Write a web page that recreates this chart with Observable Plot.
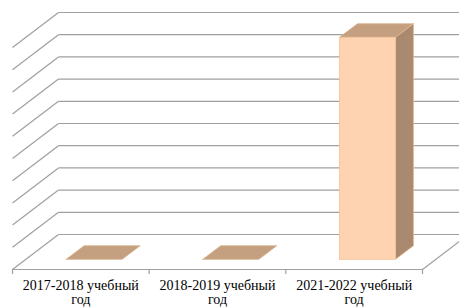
<!DOCTYPE html>
<html><head><meta charset="utf-8">
<script src="https://cdn.jsdelivr.net/npm/d3@7"></script>
<script src="https://cdn.jsdelivr.net/npm/@observablehq/plot@0.6"></script>
<style>body{margin:0;background:#fff}</style>
</head><body><div id="chart"></div>
<script>
// ---- data ----
const categories = ["2017-2018 учебный\nгод", "2018-2019 учебный\nгод", "2021-2022 учебный\nгод"];
const values = [0, 0, 100];
const gridValues = [0, 10, 20, 30, 40, 50, 60, 70, 80, 90, 100];

// ---- layout / projection (oblique 3D like Excel) ----
const W = 459, H = 307;
const xRange = [12, 422], yRange = [234, 12];
const xDomain = [0, categories.length], yDomain = [0, 100];
const pxPerX = (xRange[1] - xRange[0]) / (xDomain[1] - xDomain[0]);
const pxPerY = (yRange[0] - yRange[1]) / (yDomain[1] - yDomain[0]);
const DX = 46 / pxPerX;   // depth shift in x units (front -> back)
const DY = 35 / pxPerY;   // depth shift in y units
const proj = (c, v, z) => ({x: c + z * DX, y: v - (1 - z) * DY});

const barLo = 0.295, barHi = 0.705, z0 = 0.29, z1 = 0.68;

// faces
const frontFaces = [], sideFaces = [], topFaces = [];
values.forEach((v, i) => {
  const a = i + barLo, b = i + barHi;
  const poly = (arr, pts, id) => pts.forEach(p => arr.push({...proj(...p), id}));
  if (v > 0) {
    poly(frontFaces, [[a,0,z0],[b,0,z0],[b,v,z0],[a,v,z0],[a,0,z0]], i);
    poly(sideFaces, [[b,0,z0],[b,0,z1],[b,v,z1],[b,v,z0],[b,0,z0]], i);
  }
  poly(topFaces, [[a,v,z0],[b,v,z0],[b,v,z1],[a,v,z1],[a,v,z0]], i);
});

// walls
const backLines = gridValues.map(v => ({a: proj(0, v, 1), b: proj(xDomain[1], v, 1)}));
const leftLines = gridValues.map(v => ({a: proj(0, v, 0), b: proj(0, v, 1)}));
const floorLines = [
  {a: proj(0, 0, 0), b: proj(xDomain[1], 0, 0)},
  {a: proj(xDomain[1], 0, 0), b: proj(xDomain[1], 0, 1)}
];
const tickPos = d3.range(categories.length + 1);
const grid = "#a0a0a0";
const seg = {x1: d => d.a.x, y1: d => d.a.y, x2: d => d.b.x, y2: d => d.b.y, stroke: grid, strokeWidth: 1.2};

const chart = Plot.plot({
  width: W, height: H,
  marginLeft: 0, marginRight: 0, marginTop: 0, marginBottom: 0,
  style: {background: "#fff"},
  x: {domain: xDomain, range: xRange, axis: null},
  y: {domain: yDomain, range: yRange, axis: null},
  marks: [
    Plot.link(backLines, seg),
    Plot.link(leftLines, seg),
    Plot.link(floorLines, seg),
    Plot.ruleX(tickPos, {x: d => d, y1: -DY, y2: -DY - 5 / pxPerY, stroke: grid, strokeWidth: 1.2}),
    Plot.line(topFaces, {x: "x", y: "y", z: "id", fill: "#c4a081", stroke: "#d9b48f", strokeWidth: 0.8}),
    Plot.line(sideFaces, {x: "x", y: "y", z: "id", fill: "#a98a70", stroke: "#e8b98a", strokeWidth: 0.8}),
    Plot.line(frontFaces, {x: "x", y: "y", z: "id", fill: "#fdd3b1", stroke: "#f4c293", strokeWidth: 0.8}),
    Plot.text(categories, {
      x: (d, i) => i + 0.5, y: -DY, dy: 11,
      text: d => d, lineAnchor: "top", textAnchor: "middle",
      fontFamily: "Liberation Serif, Times New Roman, serif", fontSize: 14, lineHeight: 1.0,
      fill: "#000"
    })
  ]
});
document.getElementById("chart").append(chart);
</script>
</body></html>
